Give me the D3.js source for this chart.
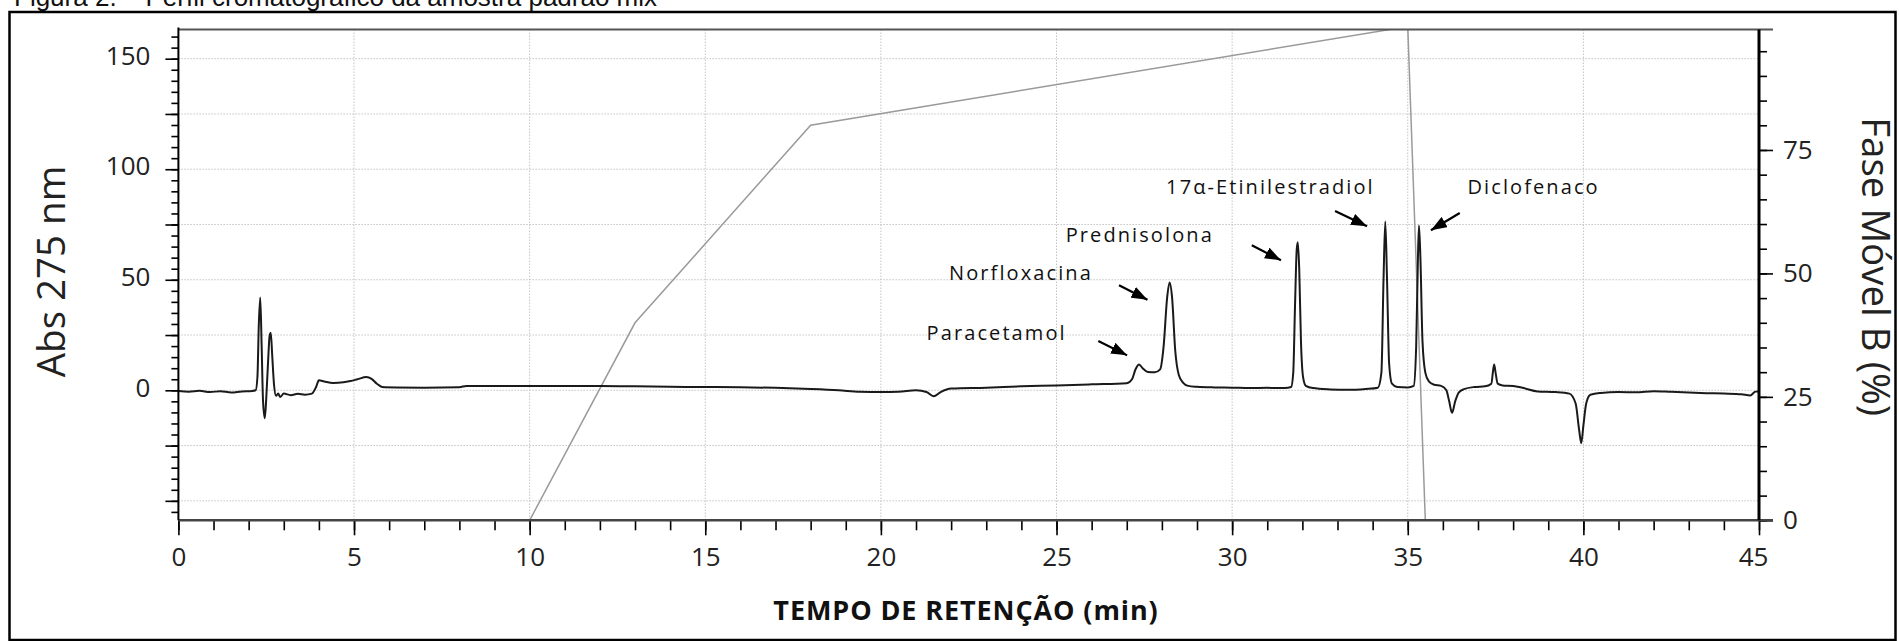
<!DOCTYPE html>
<html>
<head>
<meta charset="utf-8">
<script src="https://cdn.jsdelivr.net/npm/d3@7"></script>
<style>
  body { margin: 0; background: #fff; }
  svg { display: block; }
</style>
</head>
<body>
<svg id="chart" width="1899" height="641"></svg>
<script>
// ---- data ----
const timeTicks = [0, 5, 10, 15, 20, 25, 30, 35, 40, 45];
const absTicks = [0, 50, 100, 150];
const phaseTicks = [0, 25, 50, 75];

// Chromatogram (retention time in min, absorbance at 275 nm)
const retentionTime = [
  0.0, 0.3, 0.6, 0.9, 1.2, 1.5, 1.8, 2.1, 2.2, 2.25, 2.29, 2.33, 2.37, 2.41, 2.46, 2.5,
  2.55, 2.6, 2.63, 2.67, 2.72, 2.78, 2.84, 2.9, 3.0, 3.2, 3.4, 3.6, 3.8, 3.92, 4.0, 4.15,
  4.4, 4.7, 4.9, 5.1, 5.35, 5.5, 5.65, 5.8, 6.2, 7.0, 8.0, 8.2, 9.0, 10.0, 11.0, 12.0,
  13.0, 14.0, 15.0, 16.0, 17.0, 18.0, 18.8, 19.4, 20.0, 20.5, 21.0, 21.3, 21.5, 21.7, 22.0, 23.0,
  24.0, 25.0, 26.0, 27.0, 27.15, 27.25, 27.35, 27.45, 27.6, 27.8, 27.95, 28.05, 28.15, 28.22, 28.29, 28.38,
  28.48, 28.6, 28.75, 29.0, 29.5, 30.0, 30.5, 31.0, 31.5, 31.68, 31.74, 31.79, 31.84, 31.87, 31.91, 31.96,
  32.02, 32.1, 32.3, 32.8, 33.3, 33.8, 34.15, 34.25, 34.31, 34.36, 34.41, 34.47, 34.55, 34.7, 35.0, 35.17,
  35.24, 35.29, 35.32, 35.36, 35.42, 35.5, 35.6, 35.75, 35.95, 36.1, 36.18, 36.26, 36.35, 36.45, 36.6, 36.9,
  37.2, 37.38, 37.43, 37.46, 37.5, 37.56, 37.7, 38.0, 38.3, 38.7, 39.2, 39.6, 39.78, 39.88, 39.94, 40.0,
  40.08, 40.2, 40.5, 41.0, 41.5, 42.0, 42.5, 43.0, 43.5, 44.0, 44.5, 44.75, 44.9, 45.0
];
const absorbance = [
  -0.3, -0.6, -0.2, -0.8, -0.4, -1.0, -0.5, -0.3, 0.0, 6, 30, 42, 20, -5, -12.6, -4,
  12, 25, 26, 16, 3, -2.5, -1.5, -3, -1.5, -2.2, -1.6, -2.0, -1.5, 1.5, 4.5, 4.0,
  3.3, 3.6, 4.2, 5.0, 6.0, 5.2, 3.0, 1.5, 1.3, 1.2, 1.4, 2.0, 2.0, 1.9, 2.0, 1.9,
  1.8, 1.6, 1.5, 1.4, 1.1, 0.6, 0.0, -0.7, -0.8, -0.7, 0.0, -0.8, -2.7, -0.8, 0.8, 1.2,
  1.8, 2.2, 2.7, 3.2, 5, 9.5, 11.7, 10, 8.3, 8.2, 9.5, 20, 42, 48.8, 42, 18,
  7, 3.5, 2, 1.6, 1.3, 1.2, 1.0, 1.1, 1.0, 1.5, 8, 38, 64, 67, 55, 22,
  6, 2, 1, 0.4, 0.2, 0.6, 1.2, 8, 50, 76.3, 50, 12, 3, 1.5, 1.3, 2,
  20, 60, 74.5, 60, 22, 8, 4, 2.5, 2, 0, -5, -10.2, -5, -1, 0.5, 1.5,
  1.8, 3, 9, 11.7, 8, 3, 2.2, 2.0, 1.0, -0.5, -0.8, -1.5, -6, -18, -23.9, -16,
  -6, -2, -1.2, -0.8, -0.9, -0.4, -0.7, -1.0, -1.3, -1.5, -1.8, -2.3, -0.6, -0.5
];

// Mobile phase gradient (% B)
const gradientTime = [10, 13, 18, 35, 35.5];
const gradientB = [0, 40, 80, 100, 0];

// Identified peaks
const peakNames = ["Paracetamol", "Norfloxacina", "Prednisolona", "17α-Etinilestradiol", "Diclofenaco"];
const peakTimes = [27.35, 28.22, 31.87, 34.36, 35.32];

// Label placement for each peak (chart units): text start, arrow tail, arrow tip
const labelAt = [[21.30, 22.6], [21.94, 49.8], [25.26, 67.1], [28.12, 88.6], [36.70, 88.6]];
const arrowFrom = [[26.19, 22.3], [26.78, 47.5], [30.56, 65.6], [32.93, 81.1], [36.48, 80.2]];
const arrowTo = [[27.01, 15.8], [27.59, 41.0], [31.39, 58.8], [33.84, 74.2], [35.66, 72.4]];

// ---- layout ----
const plot = { left: 178.4, right: 1759, top: 29.5, bottom: 520.3 };
const svg = d3.select("#chart");
const FONT = "'Open Sans', 'Noto Sans', sans-serif";

const x = d3.scaleLinear().domain([0, 45]).range([plot.left, plot.right]);
const y = d3.scaleLinear().domain([-58.8, 163.2]).range([plot.bottom, plot.top]);
const y2 = d3.scaleLinear().domain([0, 99.4]).range([plot.bottom, plot.top]);

svg.append("rect").attr("width", 1899).attr("height", 641).attr("fill", "#fff");

// Figure caption
svg.append("text")
  .attr("x", 14).attr("y", 5.5)
  .attr("font-family", "'Liberation Sans', Arial, sans-serif")
  .attr("font-size", 26).attr("fill", "#111")
  .text("Figura 2. – Perfil cromatográfico da amostra padrão mix");

// Figure frame
svg.append("rect")
  .attr("x", 9.5).attr("y", 12).attr("width", 1886).attr("height", 628)
  .attr("fill", "none").attr("stroke", "#000").attr("stroke-width", 2.5);

// Grid
const grid = svg.append("g").attr("stroke", "#c4c4c4").attr("stroke-width", 1).attr("stroke-dasharray", "1.5,1.5");
grid.selectAll("line.v").data(timeTicks.filter(d => d > 0 && d < 45)).join("line")
  .attr("class", "v")
  .attr("x1", d => x(d)).attr("x2", d => x(d)).attr("y1", plot.top).attr("y2", plot.bottom);
grid.selectAll("line.h").data(d3.range(-50, 151, 25)).join("line")
  .attr("class", "h")
  .attr("y1", d => y(d)).attr("y2", d => y(d)).attr("x1", plot.left).attr("x2", plot.right);

// Clip to plotting area
svg.append("clipPath").attr("id", "plotClip").append("rect")
  .attr("x", plot.left).attr("y", plot.top)
  .attr("width", plot.right - plot.left).attr("height", plot.bottom - plot.top);

// Gradient line
const gradLine = d3.line().x((d, i) => x(gradientTime[i])).y(d => y2(d));
svg.append("path")
  .attr("clip-path", "url(#plotClip)")
  .attr("d", gradLine(gradientB))
  .attr("fill", "none").attr("stroke", "#9a9a9a").attr("stroke-width", 1.5);

// Chromatogram trace
const traceLine = d3.line()
  .x((d, i) => x(retentionTime[i])).y(d => y(d))
  .curve(d3.curveMonotoneX);
svg.append("path")
  .attr("clip-path", "url(#plotClip)")
  .attr("d", traceLine(absorbance))
  .attr("fill", "none").attr("stroke", "#1a1a1a").attr("stroke-width", 2)
  .attr("stroke-linejoin", "round");

// Axes
function styleAxis(g) {
  g.select(".domain").remove();
  g.selectAll(".tick line").attr("stroke", "#000").attr("stroke-width", 1.6);
  g.selectAll(".tick text").attr("font-family", FONT).attr("font-size", 26).attr("fill", "#222");
}

// bottom
svg.append("g").attr("transform", `translate(0,${plot.bottom})`)
  .call(d3.axisBottom(x).tickValues(d3.range(0, 46, 1)).tickSize(10).tickFormat(""))
  .call(styleAxis);
const xMajor = svg.append("g").attr("transform", `translate(0,${plot.bottom})`)
  .call(d3.axisBottom(x).tickValues(timeTicks).tickSize(15).tickPadding(12).tickFormat(d3.format("d")))
  .call(styleAxis);
xMajor.selectAll(".tick text").filter(d => d === 45).attr("dx", -6);

// left
svg.append("g").attr("transform", `translate(${plot.left},0)`)
  .call(d3.axisLeft(y).tickValues(d3.range(-55, 161, 5)).tickSize(7).tickFormat(""))
  .call(styleAxis);
svg.append("g").attr("transform", `translate(${plot.left},0)`)
  .call(d3.axisLeft(y).tickValues(d3.range(-50, 151, 25)).tickSize(13).tickPadding(15)
    .tickFormat(d => absTicks.includes(d) ? d : ""))
  .call(styleAxis)
  .selectAll(".tick text").attr("dy", "0.22em");

// right
svg.append("g").attr("transform", `translate(${plot.right},0)`)
  .call(d3.axisRight(y2).tickValues(d3.range(0, 100, 5)).tickSize(8).tickFormat(""))
  .call(styleAxis);
svg.append("g").attr("transform", `translate(${plot.right},0)`)
  .call(d3.axisRight(y2).tickValues(phaseTicks).tickSize(14).tickPadding(10).tickFormat(d3.format("d")))
  .call(styleAxis);

// frame lines
svg.append("line").attr("x1", plot.left).attr("x2", plot.right + 14).attr("y1", plot.top).attr("y2", plot.top)
  .attr("stroke", "#555").attr("stroke-width", 2);
svg.append("line").attr("x1", plot.left).attr("x2", plot.right + 14).attr("y1", plot.bottom).attr("y2", plot.bottom)
  .attr("stroke", "#444").attr("stroke-width", 2.5);
svg.append("line").attr("x1", plot.left).attr("x2", plot.left).attr("y1", plot.top - 2).attr("y2", plot.bottom)
  .attr("stroke", "#000").attr("stroke-width", 2);
svg.append("line").attr("x1", plot.right).attr("x2", plot.right).attr("y1", plot.top).attr("y2", plot.bottom)
  .attr("stroke", "#000").attr("stroke-width", 3);

// Axis titles
svg.append("text")
  .attr("x", 966).attr("y", 620)
  .attr("text-anchor", "middle")
  .attr("font-family", FONT).attr("font-weight", "bold").attr("font-size", 27)
  .attr("letter-spacing", 0.9).attr("fill", "#111")
  .text("TEMPO DE RETENÇÃO (min)");
svg.append("text")
  .attr("transform", "translate(65,271.5) rotate(-90)")
  .attr("text-anchor", "middle")
  .attr("font-family", FONT).attr("font-size", 38.5).attr("fill", "#222")
  .text("Abs 275 nm");
svg.append("text")
  .attr("transform", "translate(1862,266.7) rotate(90)")
  .attr("text-anchor", "middle")
  .attr("font-family", FONT).attr("font-size", 38.5).attr("fill", "#222")
  .text("Fase Móvel B (%)");

// Peak annotations
const defs = svg.append("defs");
defs.append("marker")
  .attr("id", "arrowHead").attr("markerUnits", "userSpaceOnUse")
  .attr("viewBox", "0 0 16 12").attr("refX", 16).attr("refY", 6)
  .attr("markerWidth", 16).attr("markerHeight", 12).attr("orient", "auto")
  .append("path").attr("d", "M0,0 L16,6 L0,12 Z").attr("fill", "#000");

const ann = svg.append("g");
ann.selectAll("text").data(peakNames).join("text")
  .attr("x", (d, i) => x(labelAt[i][0])).attr("y", (d, i) => y(labelAt[i][1]))
  .attr("font-family", FONT).attr("font-size", 20).attr("letter-spacing", 2.1).attr("fill", "#111")
  .text(d => d);
ann.selectAll("line").data(peakNames).join("line")
  .attr("x1", (d, i) => x(arrowFrom[i][0])).attr("y1", (d, i) => y(arrowFrom[i][1]))
  .attr("x2", (d, i) => x(arrowTo[i][0])).attr("y2", (d, i) => y(arrowTo[i][1]))
  .attr("stroke", "#000").attr("stroke-width", 2.2)
  .attr("marker-end", "url(#arrowHead)");
</script>
</body>
</html>
